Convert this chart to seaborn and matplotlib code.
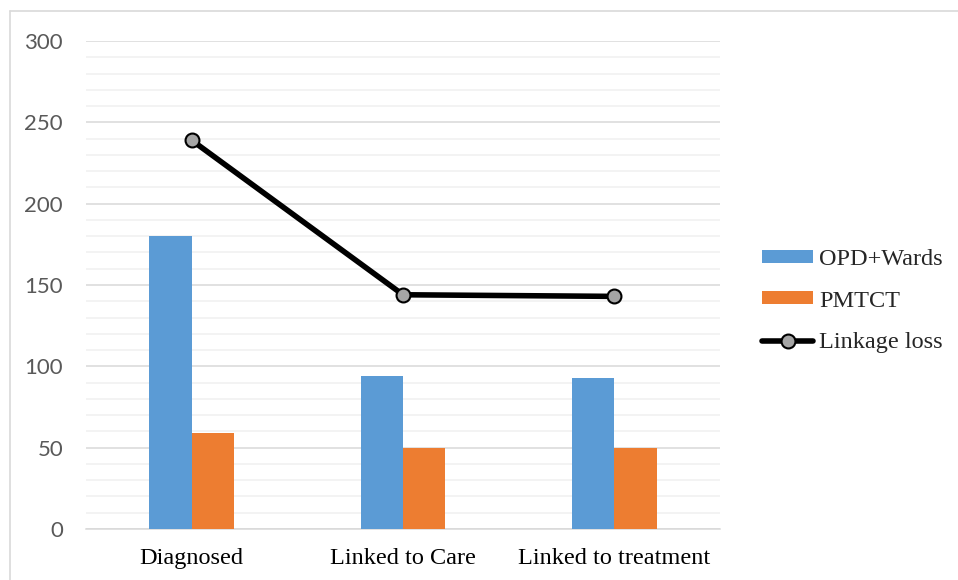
import matplotlib
matplotlib.use("Agg")
import matplotlib.pyplot as plt
from matplotlib.lines import Line2D
from matplotlib.patches import Patch
from matplotlib.ticker import MultipleLocator
import numpy as np
import pandas as pd
import seaborn as sns

# Data
stages = ["Diagnosed", "Linked to Care", "Linked to treatment"]
opd_wards = [180, 94, 93]
pmtct = [59, 50, 50]
linkage_loss = [239, 144, 143]
series_names = ["OPD+Wards", "PMTCT"]
bar_colors = ["#5b9bd5", "#ed7d31"]

df = pd.DataFrame({
    "stage": stages * 2,
    "source": [series_names[0]] * 3 + [series_names[1]] * 3,
    "count": opd_wards + pmtct,
})

sns.set_style("white")

fig = plt.figure(figsize=(9.58, 5.8), dpi=100)
W, H = 958, 580
ax = fig.add_axes([86 / W, 1 - 529 / H, (720 - 86) / W, (529 - 41) / H])

sns.barplot(data=df, x="stage", y="count", hue="source", order=stages,
            hue_order=series_names, palette=bar_colors, width=0.4,
            saturation=1, ax=ax, legend=False, linewidth=0, zorder=3)

# Line series with circle markers
xpos = np.arange(len(stages))
ax.plot(xpos, linkage_loss, color="black", linewidth=4, marker="o",
        markersize=10, markerfacecolor="#a5a5a5", markeredgecolor="black",
        markeredgewidth=1.5, zorder=4, solid_capstyle="round")

ax.set_xlim(-0.5, 2.5)
ax.set_ylim(0, 300)
ax.yaxis.set_major_locator(MultipleLocator(50))
ax.yaxis.set_minor_locator(MultipleLocator(10))
ax.grid(which="major", axis="y", color="#d9d9d9", linewidth=1.1, zorder=0)
ax.grid(which="minor", axis="y", color="#f0f0f0", linewidth=1.1, zorder=0)
ax.set_axisbelow(True)
for s in ["top", "right", "left"]:
    ax.spines[s].set_visible(False)
ax.spines["bottom"].set_color("#d9d9d9")
ax.spines["bottom"].set_linewidth(1.1)
ax.tick_params(axis="both", which="both", length=0)
ax.tick_params(axis="y", pad=16.5)
ax.tick_params(axis="x", pad=14)
ax.set_xlabel("")
ax.set_ylabel("")

for lab in ax.get_yticklabels():
    lab.set_fontfamily("Lato")
    lab.set_fontsize(16)
    lab.set_color("#595959")
for lab in ax.get_xticklabels():
    lab.set_fontfamily("Liberation Serif")
    lab.set_fontsize(17.5)
    lab.set_color("black")

handles = [
    Patch(facecolor=bar_colors[0], edgecolor="none"),
    Patch(facecolor=bar_colors[1], edgecolor="none"),
    Line2D([0], [0], color="black", linewidth=4, marker="o", markersize=10,
           markerfacecolor="#a5a5a5", markeredgecolor="black",
           markeredgewidth=1.5),
]
fig.legend(handles, ["OPD+Wards", "PMTCT", "Linkage loss"],
           loc="center left", bbox_to_anchor=(762 / W, 1 - 301 / H),
           frameon=False, prop={"family": "Liberation Serif", "size": 17.5},
           handlelength=2.1, handleheight=0.45, handletextpad=0.25,
           labelspacing=0.85, borderpad=0, borderaxespad=0)

# Light frame along the top and left edges of the figure
fig.add_artist(Line2D([9.5 / W, 9.5 / W], [0, 1 - 11 / H],
                      transform=fig.transFigure, color="#d9d9d9", linewidth=1.2))
fig.add_artist(Line2D([9.5 / W, 1], [1 - 11 / H, 1 - 11 / H],
                      transform=fig.transFigure, color="#d9d9d9", linewidth=1.2))

fig.savefig("out.png", dpi=100, facecolor="white")
